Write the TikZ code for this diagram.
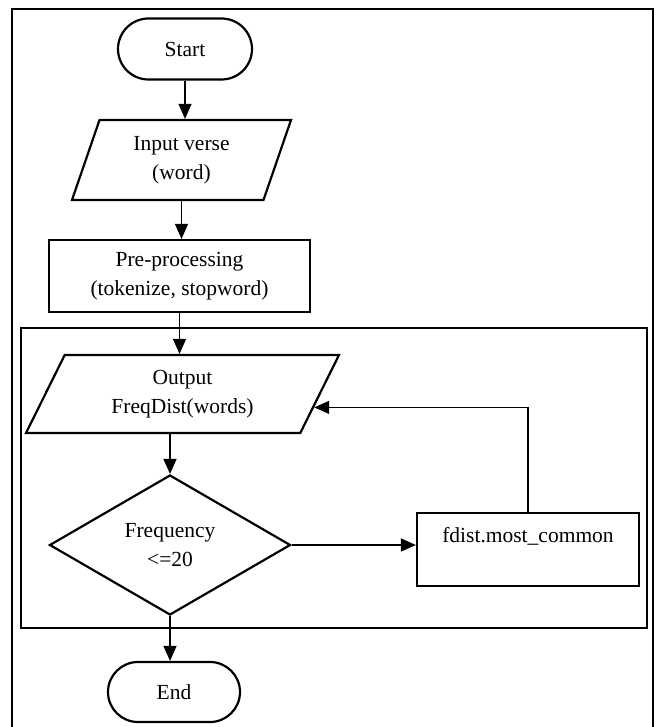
\documentclass[tikz,border=0pt]{standalone}
\usepackage{fontspec}
\setmainfont{Liberation Serif}
\usetikzlibrary{shapes.geometric,shapes.misc,arrows.meta,calc}

\begin{document}
\begin{tikzpicture}[
  x=1pt, y=-1pt,
  terminal/.style={draw, rounded rectangle, line width=2.2pt, minimum width=134pt,
                   minimum height=61pt, inner sep=0pt},
  io/.style={draw, trapezium, trapezium stretches body, line width=2.2pt,
             align=center, inner sep=0pt},
  process/.style={draw, rectangle, line width=2.2pt, align=center, inner sep=0pt},
  decision/.style={draw, diamond, line width=2.2pt, align=center, inner sep=0pt,
                   minimum width=241pt, minimum height=140pt},
  conn/.style={-{Triangle[length=15pt,width=13pt]}, line width=1.2pt},
  font=\fontsize{21.5}{29}\selectfont
]
\useasboundingbox (0,0) rectangle (656,727);

% Frames
\draw[line width=1.3pt] (12,727) -- (12,9) -- (653,9) -- (653,727);
\draw[line width=2.2pt] (21,328) rectangle (647,628);

% Nodes
\node[terminal] (start) at (185,49) {Start};
\node[io, trapezium left angle=60, trapezium right angle=120,
      minimum width=219pt, minimum height=80pt] (input) at (181.5,160) {Input verse\\(word)};
\node[process, minimum width=261pt, minimum height=72pt] (pre) at (179.5,276)
  {Pre-processing\\(tokenize, stopword)};
\node[io, trapezium left angle=51, trapezium right angle=129,
      minimum width=313pt, minimum height=78pt] (out) at (182.5,394) {Output\\FreqDist(words)};
\node[decision] (dec) at (170,545) {Frequency\\<=20};
\node[process, minimum width=222pt, minimum height=73pt] (fdist) at (528,549.5)
  {fdist.most\_common\\~};
\node[terminal, minimum width=132pt, minimum height=60pt] (end) at (174,692) {End};

% Connectors
\coordinate (back) at ($(out.top right corner)!0.667!(out.bottom right corner)$);
\draw[conn] (start.south) -- (start.south |- input.north);
\draw[conn] (input.center |- input.south) -- (input.center |- pre.north);
\draw[conn] (pre.south) -- (pre.south |- out.north);
\draw[conn] (dec.north |- out.south) -- (dec.north);
\draw[conn] (dec.east) -- (dec.east -| fdist.west);
\draw[conn] (fdist.north) |- (back);
\draw[conn] (dec.south) -- (dec.south |- end.north);

\end{tikzpicture}
\end{document}
